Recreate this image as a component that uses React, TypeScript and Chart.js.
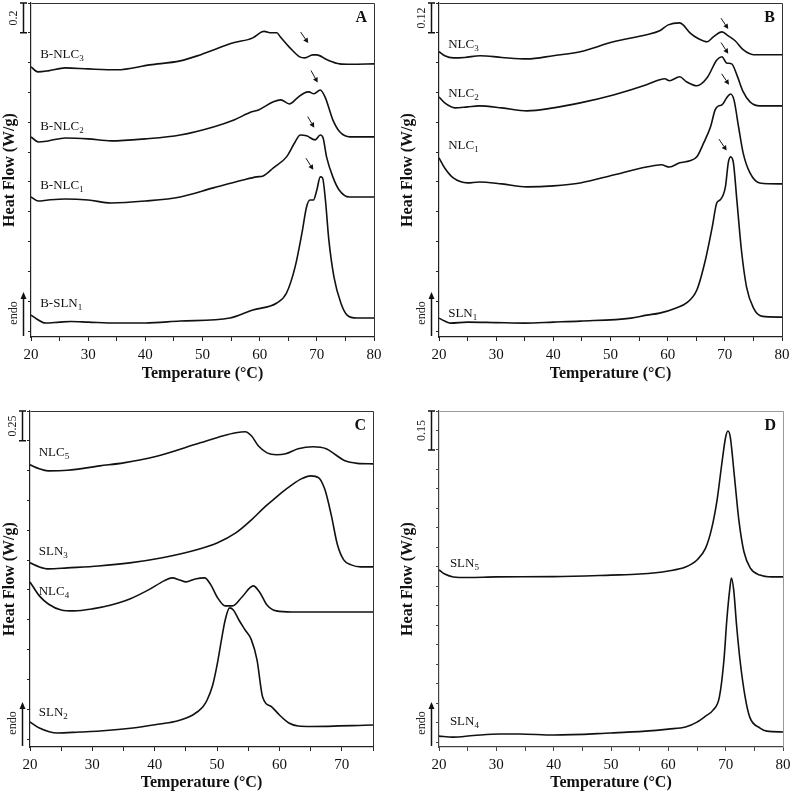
import React, { useEffect, useRef } from 'react';
import { Chart, registerables } from 'chart.js';
Chart.register(...registerables);

const FONT = "'Liberation Serif', 'Times New Roman', Times, serif";

// ---------- Panel A (heat flow, W/g, curves offset) ----------
const A_NLC3_T = [20, 21.2, 23, 26, 30, 35, 40.8, 46.1, 49.6, 55.4, 58.8, 60.4, 60.8, 61.8, 63.0, 63.6, 65.3, 67.0, 67.9, 69.3, 70.0, 71.8, 74.0, 76, 80];
const A_NLC3_HF = [1.772, 1.738, 1.745, 1.765, 1.758, 1.752, 1.785, 1.812, 1.852, 1.933, 1.966, 2.007, 2.010, 2.000, 2.000, 1.973, 1.899, 1.839, 1.832, 1.852, 1.852, 1.819, 1.792, 1.789, 1.792];
const A_NLC2_T = [20, 21.3, 23, 26, 30, 34, 40, 46.1, 51.9, 55.5, 58.6, 59.8, 62.4, 63.7, 65.2, 66.6, 67.8, 68.6, 69.5, 70.6, 71.5, 72.8, 74.0, 75.8, 80];
const A_NLC2_HF = [1.302, 1.268, 1.275, 1.295, 1.289, 1.275, 1.289, 1.315, 1.369, 1.416, 1.470, 1.483, 1.537, 1.550, 1.523, 1.564, 1.597, 1.604, 1.591, 1.617, 1.564, 1.416, 1.336, 1.302, 1.302];
const A_NLC1_T = [20, 21.3, 23, 26, 30, 34, 40, 46.1, 51.9, 57.1, 59.5, 60.6, 62.4, 64.7, 66.2, 67.1, 68.2, 69.7, 70.6, 71.1, 71.7, 72.8, 73.9, 75.7, 80];
const A_NLC1_HF = [0.899, 0.872, 0.879, 0.886, 0.879, 0.859, 0.872, 0.899, 0.960, 1.013, 1.034, 1.040, 1.094, 1.168, 1.268, 1.315, 1.309, 1.282, 1.315, 1.295, 1.168, 1.034, 0.946, 0.899, 0.899];
const A_SLN1_T = [20, 21, 22.5, 25, 27, 30, 35, 40, 46.1, 54.8, 58.8, 63, 64.7, 66.2, 67.4, 68.2, 68.8, 69.4, 70.0, 70.6, 71.0, 71.5, 72.1, 73.0, 74.2, 75.3, 77, 80];
const A_SLN1_HF = [0.107, 0.081, 0.054, 0.060, 0.064, 0.060, 0.054, 0.054, 0.067, 0.087, 0.141, 0.188, 0.255, 0.430, 0.658, 0.832, 0.879, 0.879, 0.946, 1.034, 1.027, 0.879, 0.611, 0.362, 0.188, 0.107, 0.087, 0.087];
const A_LABELS: [string, string, number, number][] = [['B-NLC', '3', 21.6, 1.852], ['B-NLC', '2', 21.6, 1.369], ['B-NLC', '1', 21.6, 0.973], ['B-SLN', '1', 21.6, 0.181]];
const A_ARROWS: [number, number, number, number][] = [[67.17, 2.005, 68.5, 1.931], [68.98, 1.747, 70.15, 1.666], [68.4, 1.438, 69.55, 1.364], [68.1, 1.159, 69.38, 1.081]];

// ---------- Panel B ----------
const B_NLC3_T = [20, 21, 22.5, 24.5, 27.2, 31, 35.4, 40, 44.7, 50.5, 56.3, 58.6, 60.1, 62.1, 62.7, 63.9, 65.4, 66.9, 68.0, 69.5, 70.6, 71.8, 73.2, 75, 80];
const B_NLC3_HF = [1.124, 1.108, 1.099, 1.101, 1.108, 1.101, 1.095, 1.108, 1.124, 1.164, 1.192, 1.208, 1.232, 1.240, 1.232, 1.200, 1.176, 1.164, 1.184, 1.204, 1.188, 1.168, 1.132, 1.112, 1.112];
const B_NLC2_T = [20, 21, 22.8, 25, 27, 31, 35.4, 40, 44.7, 50.5, 56.3, 58.6, 59.5, 60.3, 62.1, 63.3, 65.1, 66.9, 68.6, 69.5, 70.3, 71.2, 72.1, 73.2, 74.4, 76.1, 80];
const B_NLC2_HF = [0.942, 0.918, 0.898, 0.902, 0.906, 0.898, 0.886, 0.898, 0.918, 0.950, 0.991, 1.011, 1.015, 1.007, 1.023, 1.003, 0.987, 1.019, 1.091, 1.104, 1.079, 1.075, 1.031, 0.963, 0.922, 0.906, 0.906];
const B_NLC1_T = [20, 21, 22.5, 25, 27, 31, 35.4, 40, 44.7, 50.5, 56.3, 58.9, 60.3, 62.1, 63.9, 65.1, 66.3, 67.5, 68.3, 68.9, 69.5, 70.3, 71.0, 71.6, 72.4, 73.2, 74.4, 76.1, 80];
const B_NLC1_HF = [0.697, 0.656, 0.616, 0.596, 0.600, 0.592, 0.580, 0.584, 0.596, 0.628, 0.660, 0.669, 0.660, 0.677, 0.685, 0.701, 0.757, 0.822, 0.890, 0.906, 0.910, 0.938, 0.954, 0.930, 0.822, 0.717, 0.636, 0.596, 0.592];
const B_SLN1_T = [20, 21, 22, 25, 30, 35, 40, 44.7, 53.6, 56.3, 58.6, 61.5, 63.3, 65.1, 66.6, 67.8, 68.6, 69.2, 70.1, 70.6, 71.0, 71.5, 72.1, 72.9, 73.8, 75.0, 76.4, 80];
const B_SLN1_HF = [0.052, 0.040, 0.032, 0.036, 0.034, 0.032, 0.036, 0.040, 0.052, 0.064, 0.072, 0.093, 0.113, 0.165, 0.286, 0.419, 0.516, 0.528, 0.580, 0.677, 0.701, 0.677, 0.528, 0.326, 0.177, 0.093, 0.060, 0.056];
const B_LABELS: [string, string, number, number][] = [['NLC', '3', 21.6, 1.152], ['NLC', '2', 21.6, 0.954], ['NLC', '1', 21.6, 0.745], ['SLN', '1', 21.6, 0.072]];
const B_ARROWS: [number, number, number, number][] = [[69.33, 1.259, 70.6, 1.215], [69.33, 1.161, 70.6, 1.116], [69.45, 1.035, 70.73, 0.991], [68.98, 0.772, 70.32, 0.726]];

// ---------- Panel C ----------
const C_NLC5_T = [20, 21.5, 22.9, 26, 31.2, 35, 40, 47.3, 51, 53, 54.5, 55.5, 56.6, 58, 59.5, 61, 63, 65.4, 67.5, 69, 70.5, 72.5, 75];
const C_NLC5_HF = [2.299, 2.265, 2.248, 2.253, 2.290, 2.315, 2.366, 2.483, 2.542, 2.567, 2.576, 2.542, 2.458, 2.399, 2.383, 2.391, 2.433, 2.450, 2.433, 2.383, 2.332, 2.311, 2.307];
const C_SLN3_T = [20, 21.5, 23, 26, 31, 36, 41, 46, 50, 53, 55.5, 57.5, 59, 60.5, 62, 63.5, 65, 66.3, 67.3, 68.3, 69.3, 70.3, 71.5, 73, 75];
const C_SLN3_HF = [1.477, 1.443, 1.426, 1.435, 1.451, 1.477, 1.518, 1.577, 1.644, 1.728, 1.837, 1.938, 2.005, 2.072, 2.131, 2.181, 2.206, 2.190, 2.089, 1.879, 1.628, 1.502, 1.460, 1.443, 1.443];
const C_NLC4_T = [20, 21.5, 23, 25, 27, 30, 33, 36, 39, 41.5, 42.8, 44, 45, 46.5, 48, 49, 50, 51.3, 52.5, 54, 55.8, 56.8, 58, 59.5, 62, 75];
const C_NLC4_HF = [1.317, 1.200, 1.130, 1.082, 1.074, 1.091, 1.124, 1.174, 1.250, 1.326, 1.351, 1.334, 1.317, 1.342, 1.351, 1.292, 1.191, 1.116, 1.116, 1.191, 1.284, 1.233, 1.124, 1.074, 1.065, 1.065];
const C_SLN2_T = [20, 21.5, 24.4, 28, 31.2, 36.5, 40.8, 43.6, 46.1, 47.7, 48.4, 49.3, 50, 50.7, 51.3, 52, 52.6, 53.5, 54.5, 55.5, 56.4, 57.3, 58.8, 60, 61.5, 63, 65, 75];
const C_SLN2_HF = [0.143, 0.092, 0.050, 0.059, 0.067, 0.092, 0.126, 0.151, 0.201, 0.268, 0.327, 0.453, 0.621, 0.831, 0.998, 1.099, 1.082, 0.998, 0.914, 0.831, 0.663, 0.352, 0.268, 0.201, 0.134, 0.109, 0.105, 0.117];
const C_LABELS: [string, string, number, number][] = [['NLC', '5', 21.4, 2.399], ['SLN', '3', 21.4, 1.569], ['NLC', '4', 21.4, 1.233], ['SLN', '2', 21.4, 0.218]];

// ---------- Panel D ----------
const D_SLN5_T = [20, 21, 22.5, 25, 30, 40, 50, 55, 60, 63, 65, 66.5, 67.5, 68.5, 69.3, 70.0, 70.4, 70.8, 71.5, 72.3, 73.2, 74.3, 76, 78, 80];
const D_SLN5_HF = [0.663, 0.647, 0.636, 0.634, 0.636, 0.637, 0.643, 0.647, 0.659, 0.674, 0.701, 0.747, 0.817, 0.932, 1.067, 1.175, 1.198, 1.175, 1.029, 0.855, 0.732, 0.670, 0.643, 0.636, 0.636];
const D_SLN4_T = [20, 22.4, 26, 30.6, 34, 40, 50, 56, 60, 63, 65, 66.5, 67.8, 68.9, 69.7, 70.2, 70.7, 71.0, 71.4, 71.9, 72.5, 73.4, 74.2, 76, 77.2, 80];
const D_SLN4_HF = [0.023, 0.019, 0.025, 0.031, 0.031, 0.027, 0.035, 0.042, 0.050, 0.058, 0.077, 0.100, 0.123, 0.173, 0.316, 0.470, 0.586, 0.632, 0.586, 0.451, 0.316, 0.173, 0.096, 0.054, 0.042, 0.039];
const D_LABELS: [string, string, number, number][] = [['SLN', '5', 21.9, 0.686], ['SLN', '4', 21.9, 0.077]];

type Panel = {
  letter: string; left: number; top: number; w: number; h: number; yAxisW: number; padTop: number; padRight: number; xAxisH: number;
  xMax: number; yMin: number; yMax: number; yStep: number; bar: number; barLabel: string;
  curves: [number[], number[]][]; labels: [string, string, number, number][]; arrows: [number, number, number, number][];
  axisColor: string; frameColor: string;
};

const PANELS: Panel[] = [
  { letter: 'A', left: 0, top: 0, w: 395, h: 383, yAxisW: 31, padTop: 3, padRight: 21, xAxisH: 46, xMax: 80, yMin: -0.04, yMax: 2.2, yStep: 0.2, bar: 0.2, barLabel: '0.2',
    curves: [[A_NLC3_T, A_NLC3_HF], [A_NLC2_T, A_NLC2_HF], [A_NLC1_T, A_NLC1_HF], [A_SLN1_T, A_SLN1_HF]], labels: A_LABELS, arrows: A_ARROWS, axisColor: '#222', frameColor: '#333' },
  { letter: 'B', left: 398, top: 0, w: 400, h: 383, yAxisW: 41, padTop: 3, padRight: 16, xAxisH: 46, xMax: 80, yMin: -0.024, yMax: 1.32, yStep: 0.12, bar: 0.12, barLabel: '0.12',
    curves: [[B_NLC3_T, B_NLC3_HF], [B_NLC2_T, B_NLC2_HF], [B_NLC1_T, B_NLC1_HF], [B_SLN1_T, B_SLN1_HF]], labels: B_LABELS, arrows: B_ARROWS, axisColor: '#222', frameColor: '#333' },
  { letter: 'C', left: 0, top: 390, w: 395, h: 402, yAxisW: 30, padTop: 21, padRight: 22, xAxisH: 45, xMax: 75, yMin: -0.067, yMax: 2.75, yStep: 0.25, bar: 0.25, barLabel: '0.25',
    curves: [[C_NLC5_T, C_NLC5_HF], [C_SLN3_T, C_SLN3_HF], [C_NLC4_T, C_NLC4_HF], [C_SLN2_T, C_SLN2_HF]], labels: C_LABELS, arrows: [], axisColor: '#222', frameColor: '#333' },
  { letter: 'D', left: 398, top: 390, w: 400, h: 402, yAxisW: 41, padTop: 21, padRight: 15, xAxisH: 45, xMax: 80, yMin: -0.019, yMax: 1.275, yStep: 0.075, bar: 0.15, barLabel: '0.15',
    curves: [[D_SLN5_T, D_SLN5_HF], [D_SLN4_T, D_SLN4_HF]], labels: D_LABELS, arrows: [], axisColor: '#444', frameColor: '#999' },
];

function makeDecor(p: Panel) {
  return {
    id: 'decor' + p.letter,
    afterDraw(chart: any) {
      const { ctx, chartArea: ca, scales } = chart;
      const xs = scales.x, ys = scales.y;
      ctx.save();
      ctx.strokeStyle = p.frameColor; ctx.lineWidth = 1;
      ctx.beginPath();
      ctx.moveTo(Math.round(ca.left) + 0.5, Math.round(ca.top) + 0.5);
      ctx.lineTo(Math.round(ca.right) + 0.5, Math.round(ca.top) + 0.5);
      ctx.lineTo(Math.round(ca.right) + 0.5, Math.round(ca.bottom) + 0.5);
      ctx.stroke();
      ctx.fillStyle = '#111'; ctx.strokeStyle = '#111';
      ctx.font = `bold 16px ${FONT}`; ctx.textAlign = 'right'; ctx.textBaseline = 'middle';
      ctx.fillText(p.letter, ca.right - 7, ca.top + 15);
      const bx = Math.round(ca.left - 8.5) + 0.5;
      const by0 = ys.getPixelForValue(p.yMax), by1 = ys.getPixelForValue(p.yMax - p.bar);
      ctx.lineWidth = 1.5;
      ctx.beginPath();
      ctx.moveTo(bx, by0); ctx.lineTo(bx, by1);
      ctx.moveTo(bx - 3.5, by0); ctx.lineTo(bx + 3.5, by0);
      ctx.moveTo(bx - 3.5, by1); ctx.lineTo(bx + 3.5, by1);
      ctx.stroke();
      ctx.save();
      ctx.translate(ca.left - 17, (by0 + by1) / 2); ctx.rotate(-Math.PI / 2);
      ctx.font = `12px ${FONT}`; ctx.textAlign = 'center'; ctx.textBaseline = 'middle';
      ctx.fillStyle = '#222';
      ctx.fillText(p.barLabel, 0, 0);
      ctx.restore();
      const ex = bx, eTop = ca.bottom - 45, eBot = ca.bottom - 1;
      ctx.lineWidth = 1.5;
      ctx.beginPath(); ctx.moveTo(ex, eBot); ctx.lineTo(ex, eTop + 5); ctx.stroke();
      ctx.beginPath(); ctx.moveTo(ex, eTop); ctx.lineTo(ex - 3, eTop + 7); ctx.lineTo(ex + 3, eTop + 7); ctx.closePath(); ctx.fill();
      ctx.save();
      ctx.translate(ca.left - 17, ca.bottom - 24); ctx.rotate(-Math.PI / 2);
      ctx.font = `12px ${FONT}`; ctx.textAlign = 'center'; ctx.textBaseline = 'middle';
      ctx.fillStyle = '#222';
      ctx.fillText('endo', 0, 0);
      ctx.restore();
      ctx.textAlign = 'left'; ctx.textBaseline = 'middle'; ctx.fillStyle = '#111';
      for (const [name, sub, t, v] of p.labels) {
        const px = xs.getPixelForValue(t), py = ys.getPixelForValue(v);
        ctx.font = `13px ${FONT}`;
        ctx.fillText(name, px, py);
        const w = ctx.measureText(name).width;
        ctx.font = `9px ${FONT}`;
        ctx.fillText(sub, px + w, py + 4);
      }
      ctx.lineWidth = 1;
      for (const [t0, v0, t1, v1] of p.arrows) {
        const x0 = xs.getPixelForValue(t0), y0 = ys.getPixelForValue(v0);
        const x1 = xs.getPixelForValue(t1), y1 = ys.getPixelForValue(v1);
        const ang = Math.atan2(y1 - y0, x1 - x0);
        const hl = 5, hw = 2.6;
        ctx.beginPath(); ctx.moveTo(x0, y0); ctx.lineTo(x1 - hl * Math.cos(ang), y1 - hl * Math.sin(ang)); ctx.stroke();
        ctx.beginPath();
        ctx.moveTo(x1, y1);
        ctx.lineTo(x1 - hl * Math.cos(ang) + hw * Math.sin(ang), y1 - hl * Math.sin(ang) - hw * Math.cos(ang));
        ctx.lineTo(x1 - hl * Math.cos(ang) - hw * Math.sin(ang), y1 - hl * Math.sin(ang) + hw * Math.cos(ang));
        ctx.closePath(); ctx.fill();
      }
      ctx.restore();
    },
  };
}

function PanelChart({ p }: { p: Panel }) {
  const ref = useRef<HTMLCanvasElement>(null);
  useEffect(() => {
    const datasets = p.curves.map(([t, v]) => ({
      data: t.map((tt, i) => ({ x: tt, y: v[i] })),
      borderColor: '#111', borderWidth: 1.6, pointRadius: 0, fill: false,
      cubicInterpolationMode: 'monotone' as const,
    }));
    const chart = new Chart(ref.current!, {
      type: 'line',
      data: { datasets },
      options: {
        responsive: false, animation: false, devicePixelRatio: 1,
        layout: { padding: { top: p.padTop, right: p.padRight, left: 0, bottom: 0 } },
        plugins: { legend: { display: false }, tooltip: { enabled: false } },
        scales: {
          x: {
            type: 'linear', min: 20, max: p.xMax,
            afterFit: (s: any) => { s.height = p.xAxisH; },
            grid: { drawOnChartArea: false, drawTicks: true, tickLength: 4, color: p.axisColor, lineWidth: 1 },
            border: { display: true, color: p.axisColor, width: 1.2 },
            ticks: { stepSize: 5, autoSkip: false, maxRotation: 0, padding: 5, color: '#111', font: { family: FONT, size: 15 },
              callback: (val: any) => (Number(val) % 10 === 0 ? String(val) : '') },
            title: { display: true, text: 'Temperature (°C)', color: '#111', font: { family: FONT, size: 16, weight: 'bold' }, padding: { top: 0, bottom: 0 } },
          },
          y: {
            type: 'linear', min: p.yMin, max: p.yMax,
            afterFit: (s: any) => { s.width = p.yAxisW; },
            grid: { drawOnChartArea: false, drawTicks: true, tickLength: 3, color: p.axisColor, lineWidth: 1 },
            border: { display: true, color: p.axisColor, width: 1.2 },
            ticks: { display: false, stepSize: p.yStep, includeBounds: false },
            title: { display: true, text: 'Heat Flow (W/g)', color: '#111', font: { family: FONT, size: 16, weight: 'bold' }, padding: { top: 0, bottom: 0 } },
          },
        },
      },
      plugins: [makeDecor(p)],
    });
    return () => chart.destroy();
  }, []);
  return <canvas ref={ref} width={p.w} height={p.h} style={{ position: 'absolute', left: p.left, top: p.top, width: p.w, height: p.h }} />;
}

export default function App() {
  return (
    <div style={{ position: 'absolute', left: 0, top: 0, width: 791, height: 792, overflow: 'hidden', background: '#fff' }}>
      {PANELS.map((p) => <PanelChart key={p.letter} p={p} />)}
    </div>
  );
}
